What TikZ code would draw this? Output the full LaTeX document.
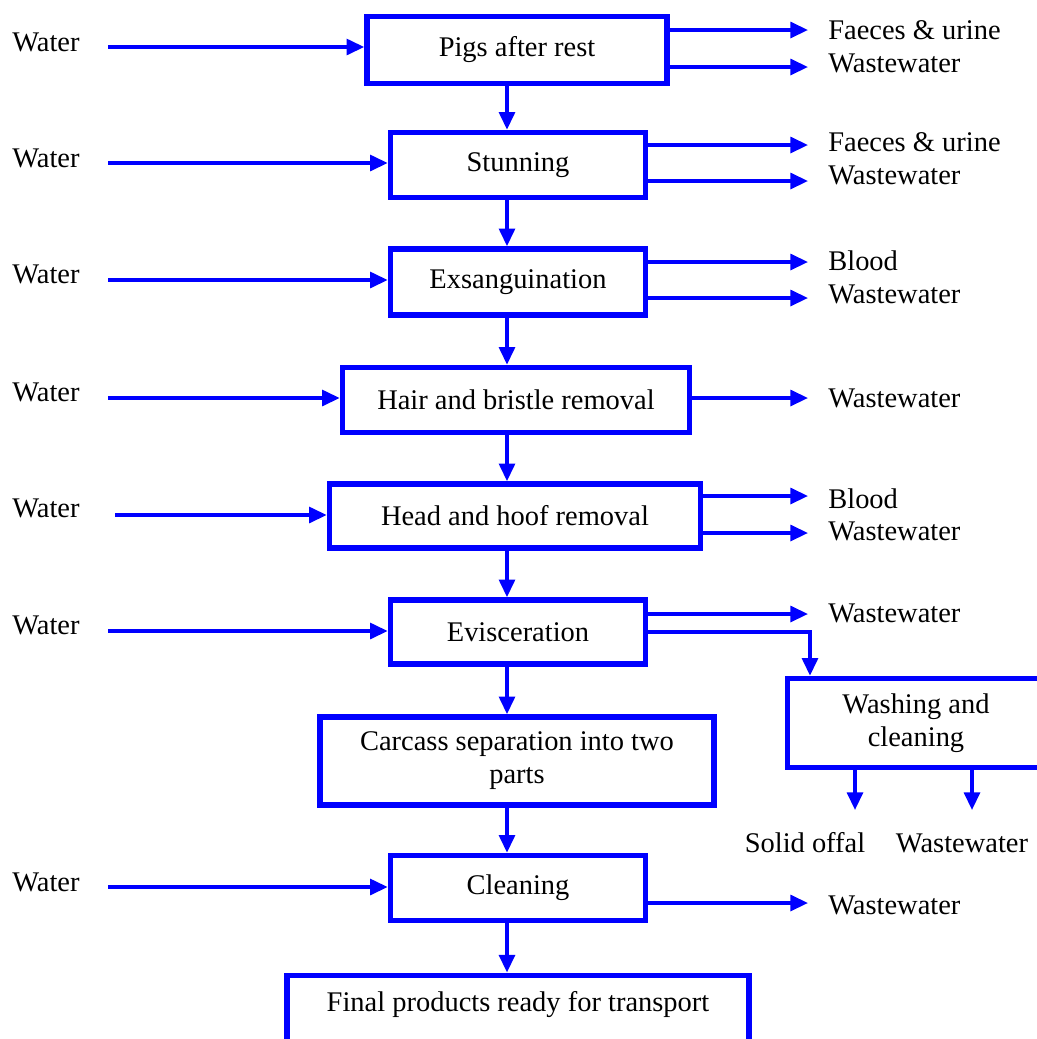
\documentclass[tikz,border=0pt]{standalone}
\usepackage{fontspec}
\setmainfont{Liberation Serif}
\usetikzlibrary{arrows.meta,positioning}
\definecolor{flowblue}{HTML}{0000FF}
\tikzset{
  flow diagram/.style={
    x=0.02cm,
    y=-0.02cm,
    font=\fontsize{16.2}{18.8}\selectfont,
    >={Triangle[length=10pt,width=9pt]},
    line cap=butt,
    line join=miter
  },
  stepbox/.style={
    draw=flowblue,
    line width=3.2pt,
    inner sep=0pt,
    align=center,
    fill=white
  },
  flowarrow/.style={
    ->,
    draw=flowblue,
    line width=1.9pt
  },
  sidelabel/.style={
    anchor=west,
    inner sep=0pt
  }
}

\begin{document}
\begin{tikzpicture}[flow diagram]
\useasboundingbox (0,0) rectangle (1037,1039);
\clip (0,0) rectangle (1037,1039);

% main line of steps
\node[stepbox, minimum width=6cm, minimum height=1.34cm] (pigs) at (517,50) {Pigs after rest};
\node[stepbox, minimum width=5.1cm, minimum height=1.3cm] (stun) at (518,165) {Stunning};
\node[stepbox, minimum width=5.1cm, minimum height=1.32cm] (exsang) at (518,282) {Exsanguination};
\node[stepbox, minimum width=6.94cm, minimum height=1.3cm] (hair) at (516,400) {Hair and bristle removal};
\node[stepbox, minimum width=7.42cm, minimum height=1.28cm] (head) at (515,516) {Head and hoof removal};
\node[stepbox, minimum width=5.1cm, minimum height=1.28cm] (evisc) at (518,632) {Evisceration};
\node[stepbox, minimum width=7.88cm, minimum height=1.76cm] (carcass) at (517,761) {Carcass separation into two\\parts};
\node[stepbox, minimum width=5.1cm, minimum height=1.3cm] (clean) at (518,888) {Cleaning};
\node[stepbox, anchor=north, minimum width=9.24cm, inner ysep=0.28cm, text height=0.45cm, text depth=2cm] (final) at (518,972.5) {Final products ready for transport};
\node[stepbox, minimum width=5.14cm, minimum height=1.78cm] (wash) at (916,723) {Washing and\\cleaning};

% water inputs
\node[sidelabel] (w1) at (12,42) {Water};
\node[sidelabel] (w2) at (12,158) {Water};
\node[sidelabel] (w3) at (12,274) {Water};
\node[sidelabel] (w4) at (12,392) {Water};
\node[sidelabel] (w5) at (12,508) {Water};
\node[sidelabel] (w6) at (12,625) {Water};
\node[sidelabel] (w7) at (12,882) {Water};
\coordinate (in1) at (108,47);
\coordinate (in2) at (108,163);
\coordinate (in3) at (108,280);
\coordinate (in4) at (108,398);
\coordinate (in5) at (115,515);
\coordinate (in6) at (108,631);
\coordinate (in7) at (108,887);
\draw[flowarrow] (in1) -- (in1 -| pigs.west);
\draw[flowarrow] (in2) -- (in2 -| stun.west);
\draw[flowarrow] (in3) -- (in3 -| exsang.west);
\draw[flowarrow] (in4) -- (in4 -| hair.west);
\draw[flowarrow] (in5) -- (in5 -| head.west);
\draw[flowarrow] (in6) -- (in6 -| evisc.west);
\draw[flowarrow] (in7) -- (in7 -| clean.west);

% main flow
\coordinate (axis) at (507,0);
\draw[flowarrow] (pigs.south -| axis) -- (stun.north -| axis);
\draw[flowarrow] (stun.south -| axis) -- (exsang.north -| axis);
\draw[flowarrow] (exsang.south -| axis) -- (hair.north -| axis);
\draw[flowarrow] (hair.south -| axis) -- (head.north -| axis);
\draw[flowarrow] (head.south -| axis) -- (evisc.north -| axis);
\draw[flowarrow] (evisc.south -| axis) -- (carcass.north -| axis);
\draw[flowarrow] (carcass.south -| axis) -- (clean.north -| axis);
\draw[flowarrow] (clean.south -| axis) -- (final.north -| axis);

% outputs
\node[sidelabel] (o1a) at (828,30) {Faeces \& urine};
\node[sidelabel] (o1b) at (828,63) {Wastewater};
\node[sidelabel] (o2a) at (828,142) {Faeces \& urine};
\node[sidelabel] (o2b) at (828,175) {Wastewater};
\node[sidelabel] (o3a) at (828,261) {Blood};
\node[sidelabel] (o3b) at (828,294) {Wastewater};
\node[sidelabel] (o4) at (828,398) {Wastewater};
\node[sidelabel] (o5a) at (828,499) {Blood};
\node[sidelabel] (o5b) at (828,531) {Wastewater};
\node[sidelabel] (o6) at (828,613) {Wastewater};
\node[sidelabel] (o8) at (828,905) {Wastewater};
\coordinate (e1a) at (808,30);
\coordinate (e1b) at (808,67);
\coordinate (e2a) at (808,145);
\coordinate (e2b) at (808,181);
\coordinate (e3a) at (808,262);
\coordinate (e3b) at (808,298);
\coordinate (e4) at (808,398);
\coordinate (e5a) at (808,496);
\coordinate (e5b) at (808,533);
\coordinate (e6) at (808,614);
\coordinate (e8) at (808,903);
\draw[flowarrow] (e1a -| pigs.east) -- (e1a);
\draw[flowarrow] (e1b -| pigs.east) -- (e1b);
\draw[flowarrow] (e2a -| stun.east) -- (e2a);
\draw[flowarrow] (e2b -| stun.east) -- (e2b);
\draw[flowarrow] (e3a -| exsang.east) -- (e3a);
\draw[flowarrow] (e3b -| exsang.east) -- (e3b);
\draw[flowarrow] (e4 -| hair.east) -- (e4);
\draw[flowarrow] (e5a -| head.east) -- (e5a);
\draw[flowarrow] (e5b -| head.east) -- (e5b);
\draw[flowarrow] (e6 -| evisc.east) -- (e6);
\draw[flowarrow] (e8 -| clean.east) -- (e8);

% offal branch
\coordinate (turn) at (810,632);
\draw[flowarrow] (turn -| evisc.east) -- (turn) -- (turn |- wash.north);
\node (offal) at (805,843) {Solid offal};
\node (washww) at (962,843) {Wastewater};
\coordinate (d1) at (855,810);
\coordinate (d2) at (972,810);
\draw[flowarrow] (d1 |- wash.south) -- (d1);
\draw[flowarrow] (d2 |- wash.south) -- (d2);
\end{tikzpicture}
\end{document}
